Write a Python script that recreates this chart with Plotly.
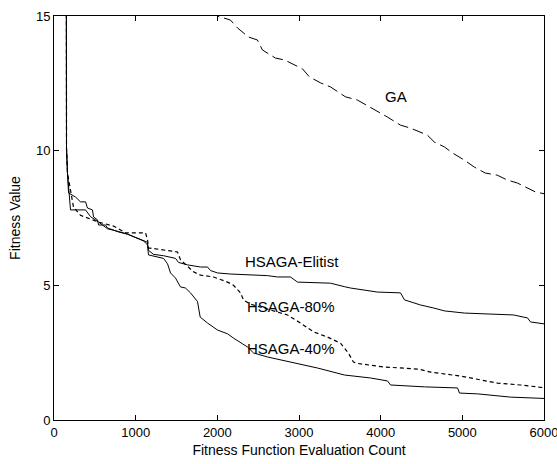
import plotly.graph_objects as go

# ---- data ----
ga_x = [1950, 2000, 2160, 2246, 2381, 2491, 2552, 2711, 2821, 3042, 3127, 3262, 3384, 3568,
        3715, 3935, 4082, 4241, 4363, 4571, 4657, 4780, 4877, 5024, 5147, 5281, 5428, 5551,
        5673, 5894, 6000]
ga_y = [15.3, 15.0, 14.85, 14.56, 14.22, 14.11, 13.74, 13.44, 13.37, 13.04, 12.74, 12.52, 12.37,
        12.0, 11.88, 11.51, 11.25, 10.95, 10.84, 10.58, 10.32, 10.14, 9.92, 9.65, 9.39, 9.17,
        9.09, 8.91, 8.80, 8.47, 8.4]

elit_x = [150, 153, 165, 178, 263, 324, 386, 410, 471, 484, 533, 545, 631, 655, 729, 790, 900,
          1096, 1145, 1157, 1218, 1341, 1488, 1525, 1635, 1794, 1880, 1916, 2002, 2161, 2400,
          2614, 2737, 2896, 2982, 3386, 3557, 3631, 3961, 4243, 4292, 4366, 4488, 4647, 4782,
          5027, 5259, 5627, 5798, 5835, 6000]
elit_y = [20, 10.1, 9.17, 8.43, 8.28, 8.1, 8.1, 7.87, 7.8, 7.54, 7.43, 7.24, 7.24, 7.13, 7.05,
          6.98, 6.9, 6.65, 6.6, 6.3, 6.15, 6.1, 6.0, 5.85, 5.76, 5.68, 5.68, 5.55, 5.46, 5.42,
          5.38, 5.36, 5.31, 5.31, 5.12, 5.08, 4.95, 4.9, 4.75, 4.72, 4.46, 4.38, 4.27, 4.16,
          4.05, 3.97, 3.94, 3.9, 3.79, 3.64, 3.57]

h40_x = [150, 153, 165, 202, 386, 447, 545, 655, 790, 900, 1096, 1145, 1157, 1341, 1390, 1427,
         1488, 1549, 1610, 1671, 1757, 1790, 1880, 2002, 2125, 2198, 2370, 2443, 2614, 2774,
         2982, 3227, 3557, 3875, 4084, 4121, 4537, 4941, 4965, 5186, 5590, 6000]
h40_y = [20, 10.1, 9.17, 7.8, 7.8, 7.55, 7.35, 7.1, 7.0, 6.9, 6.65, 6.5, 6.13, 6.0, 5.8, 5.46,
         5.27, 4.94, 4.9, 4.72, 4.4, 3.82, 3.6, 3.34, 3.2, 3.04, 2.71, 2.49, 2.34, 2.23, 2.1,
         1.93, 1.67, 1.56, 1.45, 1.3, 1.23, 1.19, 1.0, 0.97, 0.85, 0.8]

h80_x = [150, 153, 165, 239, 324, 410, 545, 729, 876, 1120, 1145, 1157, 1267, 1512, 1549, 1708,
         1794, 1953, 2125, 2198, 2284, 2321, 2406, 2859, 3018, 3178, 3349, 3508, 3606, 3667,
         3716, 4035, 4463, 4610, 4978, 5223, 5431, 5712, 6000]
h80_y = [20, 10.1, 9.17, 7.9, 7.6, 7.5, 7.35, 7.2, 6.95, 6.95, 6.7, 6.39, 6.35, 6.24, 5.95, 5.5,
         5.38, 5.31, 5.12, 5.0, 4.72, 4.45, 4.3, 3.9, 3.6, 3.27, 3.08, 2.85, 2.48, 2.15, 2.1,
         1.97, 1.89, 1.78, 1.63, 1.49, 1.37, 1.3, 1.2]

labels = ["GA", "HSAGA-Elitist", "HSAGA-80%", "HSAGA-40%"]
label_x = [4190, 2920, 2896, 2896]
label_y = [12.0, 5.87, 4.23, 2.64]

x_ticks = [0, 1000, 2000, 3000, 4000, 5000, 6000]
y_ticks = [0, 5, 10, 15]

FONT = "Liberation Sans, Arial, sans-serif"

fig = go.Figure()
fig.add_trace(go.Scatter(x=ga_x, y=ga_y, mode="lines", name="GA",
                         line=dict(color="black", width=1, dash="11px,5px")))
fig.add_trace(go.Scatter(x=elit_x, y=elit_y, mode="lines", name="HSAGA-Elitist",
                         line=dict(color="black", width=1)))
fig.add_trace(go.Scatter(x=h80_x, y=h80_y, mode="lines", name="HSAGA-80%",
                         line=dict(color="black", width=1.2, dash="4px,3px")))
fig.add_trace(go.Scatter(x=h40_x, y=h40_y, mode="lines", name="HSAGA-40%",
                         line=dict(color="black", width=1)))

for t, xx, yy in zip(labels, label_x, label_y):
    fig.add_annotation(x=xx, y=yy, text=t, showarrow=False,
                       font=dict(family=FONT, size=15, color="black"))

axis_common = dict(showgrid=False, zeroline=False, showline=True, linecolor="black",
                   linewidth=1, mirror="ticks", ticks="inside", ticklen=5,
                   tickcolor="black", ticklabeloverflow="allow", automargin=False,
                   tickfont=dict(family=FONT, size=13, color="black"))

fig.update_xaxes(range=[0, 6000], tickvals=x_ticks,
                 title=dict(text="Fitness Function Evaluation Count", standoff=6,
                            font=dict(family=FONT, size=14, color="black")),
                 **axis_common)
fig.update_yaxes(range=[0, 15], tickvals=y_ticks,
                 title=dict(text="Fitness Value", standoff=12,
                            font=dict(family=FONT, size=14, color="black")),
                 **axis_common)

fig.update_layout(width=557, height=464, showlegend=False,
                  margin=dict(l=54, r=13, t=16, b=44),
                  paper_bgcolor="white", plot_bgcolor="white")

fig.write_html("out.html")
